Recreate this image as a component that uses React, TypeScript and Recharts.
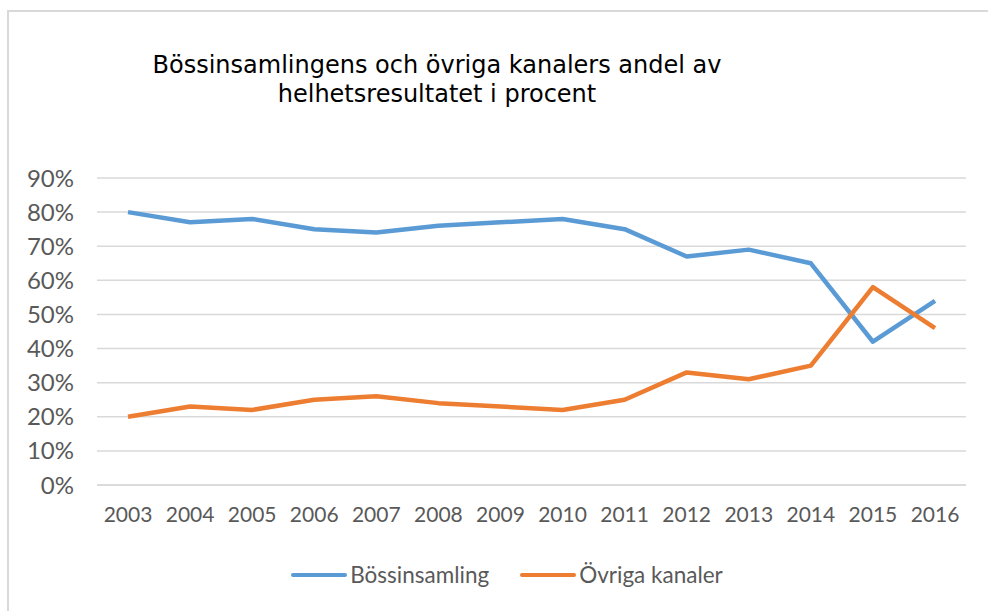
import { LineChart, Line, XAxis, YAxis, CartesianGrid, Legend } from 'recharts';

const years = ['2003', '2004', '2005', '2006', '2007', '2008', '2009', '2010', '2011', '2012', '2013', '2014', '2015', '2016'];
const bossinsamling = [80, 77, 78, 75, 74, 76, 77, 78, 75, 67, 69, 65, 42, 54];
const ovriga = [20, 23, 22, 25, 26, 24, 23, 22, 25, 33, 31, 35, 58, 46];
const yTicks = [0, 10, 20, 30, 40, 50, 60, 70, 80, 90];

const BLUE = '#5B9BD5';
const ORANGE = '#ED7D31';

const data = years.map((y, i) => ({ year: y, b: bossinsamling[i], o: ovriga[i] }));

function LegendContent() {
  const items = [
    { label: 'Bössinsamling', color: BLUE },
    { label: 'Övriga kanaler', color: ORANGE },
  ];
  return (
    <div style={{ display: 'flex', justifyContent: 'center', gap: 31, paddingLeft: 48, fontFamily: 'Lato, sans-serif', fontSize: 22.5, lineHeight: '26px', color: '#595959' }}>
      {items.map((it) => (
        <div key={it.label} style={{ display: 'flex', alignItems: 'center' }}>
          <span style={{ display: 'inline-block', width: 56, height: 4, borderRadius: 2, background: it.color, marginRight: 3 }} />
          <span>{it.label}</span>
        </div>
      ))}
    </div>
  );
}

export default function App() {
  return (
    <div style={{ position: 'absolute', left: 0, top: 0, width: 988, height: 611, background: '#fff' }}>
      <div style={{ position: 'absolute', left: 7, top: 10, width: 1000, height: 700, borderLeft: '2px solid #d9d9d9', borderTop: '2px solid #d9d9d9' }} />
      <div style={{ position: 'absolute', left: 0, top: 51, width: 874, textAlign: 'center', fontFamily: '"DejaVu Sans", Verdana, sans-serif', fontSize: 24, lineHeight: '29px', color: '#000' }}>
        Bössinsamlingens och övriga kanalers andel av<br />helhetsresultatet i procent
      </div>
      <div style={{ position: 'absolute', left: 0, top: 0 }}>
        <LineChart width={988} height={611} data={data} margin={{ top: 178, right: 22, bottom: 0, left: 0 }}>
          <CartesianGrid vertical={false} stroke="#d9d9d9" strokeWidth={1.5} />
          <XAxis
            dataKey="year"
            axisLine={{ stroke: '#d9d9d9', strokeWidth: 1.5 }}
            tickLine={false}
            tickSize={0}
            tickMargin={22}
            height={100}
            padding={{ left: 31, right: 31 }}
            tick={{ fill: '#595959', fontSize: 21, fontFamily: 'Lato, sans-serif' }}
            interval={0}
          />
          <YAxis
            domain={[0, 90]}
            ticks={yTicks}
            width={97}
            axisLine={false}
            tickLine={false}
            tickSize={0}
            tickMargin={23}
            tickFormatter={(v) => `${v}%`}
            tick={{ fill: '#595959', fontSize: 24, fontFamily: 'Lato, sans-serif' }}
          />
          <Legend verticalAlign="bottom" content={<LegendContent />} wrapperStyle={{ bottom: 23 }} />
          <Line dataKey="b" name="Bössinsamling" stroke={BLUE} strokeWidth={4.5} dot={false} isAnimationActive={false} strokeLinejoin="round" />
          <Line dataKey="o" name="Övriga kanaler" stroke={ORANGE} strokeWidth={4.5} dot={false} isAnimationActive={false} strokeLinejoin="round" />
        </LineChart>
      </div>
    </div>
  );
}
